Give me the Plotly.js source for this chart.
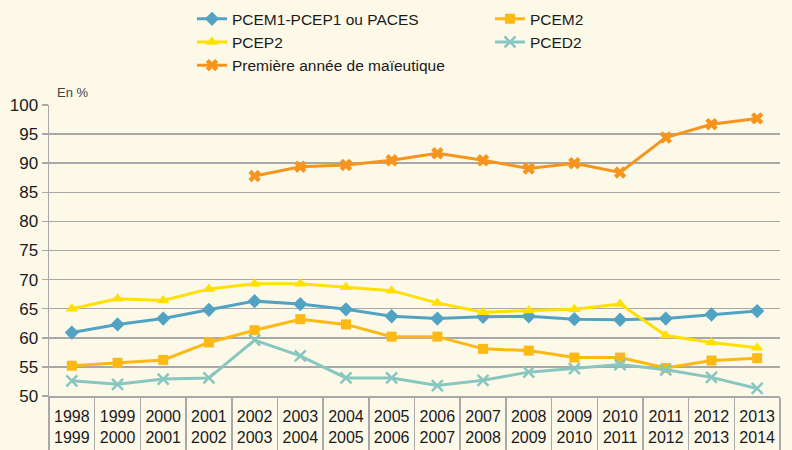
<!DOCTYPE html>
<html>
<head>
<meta charset="utf-8">
<script src="https://cdn.plot.ly/plotly-3.0.1.min.js"></script>
<style>
html,body{margin:0;padding:0;background:#FDF9E9;}
#chart{width:792px;height:450px;}
</style>
</head>
<body>
<div id="chart"></div>
<script>
var years = ["1998<br>1999","1999<br>2000","2000<br>2001","2001<br>2002","2002<br>2003","2003<br>2004","2004<br>2005","2005<br>2006","2006<br>2007","2007<br>2008","2008<br>2009","2009<br>2010","2010<br>2011","2011<br>2012","2012<br>2013","2013<br>2014"];
var pcem1 = [60.9,62.3,63.3,64.8,66.3,65.8,64.9,63.7,63.3,63.6,63.7,63.2,63.1,63.3,64.0,64.6];
var pcem2 = [55.2,55.7,56.2,59.2,61.3,63.2,62.3,60.2,60.2,58.1,57.8,56.6,56.6,54.8,56.1,56.5];
var pcep2 = [65.0,66.7,66.4,68.4,69.3,69.3,68.7,68.1,66.0,64.4,64.7,64.9,65.8,60.4,59.2,58.3];
var pced2 = [52.6,52.0,52.9,53.1,59.6,56.9,53.1,53.1,51.8,52.7,54.1,54.7,55.4,54.5,53.2,51.3];
var maieutique = [null,null,null,null,87.8,89.4,89.7,90.5,91.7,90.5,89.1,90.0,88.4,94.4,96.7,97.7];

var FONT = "'Liberation Sans', Arial, sans-serif";
var GRID = "#A8A8A8";

function tr(name, y, color, symbol, msize, mline) {
  var m = {symbol: symbol, size: msize, color: color};
  if (mline) m.line = {color: color, width: mline};
  return {type: "scatter", mode: "lines+markers", x: years, y: y, name: name,
    line: {color: color, width: 3}, marker: m, connectgaps: false, cliponaxis: false};
}

var data = [
  tr("PCEM1-PCEP1 ou PACES", pcem1, "#52A3C3", "diamond", 11),
  tr("PCEM2", pcem2, "#FDB913", "square", 10),
  tr("PCEP2", pcep2, "#FFE000", "triangle-up", 11),
  tr("PCED2", pced2, "#88C6C0", "x-thin-open", 11, 2.5),
  tr("Première année de maïeutique", maieutique, "#F7941D", "x", 11)
];

var layout = {
  width: 792, height: 450,
  paper_bgcolor: "#FDF9E9", plot_bgcolor: "#FDF9E9",
  margin: {l: 49, r: 12, t: 105, b: 54},
  font: {family: FONT, size: 17, color: "#1a1a1a"},
  showlegend: true,
  legend: {
    orientation: "h", xref: "container", yref: "container",
    x: 0.2424, xanchor: "left", y: 0.995, yanchor: "top",
    entrywidth: 253, entrywidthmode: "pixels",
    bgcolor: "rgba(0,0,0,0)", font: {family: FONT, size: 15.5, color: "#1a1a1a"},
    tracegroupgap: 0, itemwidth: 30
  },
  xaxis: {
    type: "category", range: [-0.5, years.length - 0.5], autorange: false,
    showgrid: false, showline: true, linecolor: GRID, linewidth: 1.5,
    ticks: "outside", tickson: "boundaries", ticklen: 54, tickcolor: GRID, tickwidth: 1.5,
    tickangle: 0, tickfont: {family: FONT, size: 16, color: "#1a1a1a"}, ticklabelstandoff: 5,
    fixedrange: true
  },
  yaxis: {
    range: [50, 100], dtick: 5, tick0: 50, showgrid: true, gridcolor: GRID, gridwidth: 1.5,
    showline: true, linecolor: GRID, linewidth: 1.5, zeroline: false,
    ticks: "outside", ticklen: 6, tickcolor: GRID, tickwidth: 1.5,
    tickfont: {family: FONT, size: 17, color: "#1a1a1a"}, ticklabelstandoff: 0
  },
  annotations: [{
    text: "En %", xref: "paper", yref: "paper", x: 0, y: 1, xanchor: "left", yanchor: "bottom",
    xshift: 6, yshift: 3, showarrow: false, font: {family: FONT, size: 13, color: "#444"}
  }]
};

Plotly.newPlot("chart", data, layout, {displayModeBar: false, staticPlot: true});
</script>
</body>
</html>
